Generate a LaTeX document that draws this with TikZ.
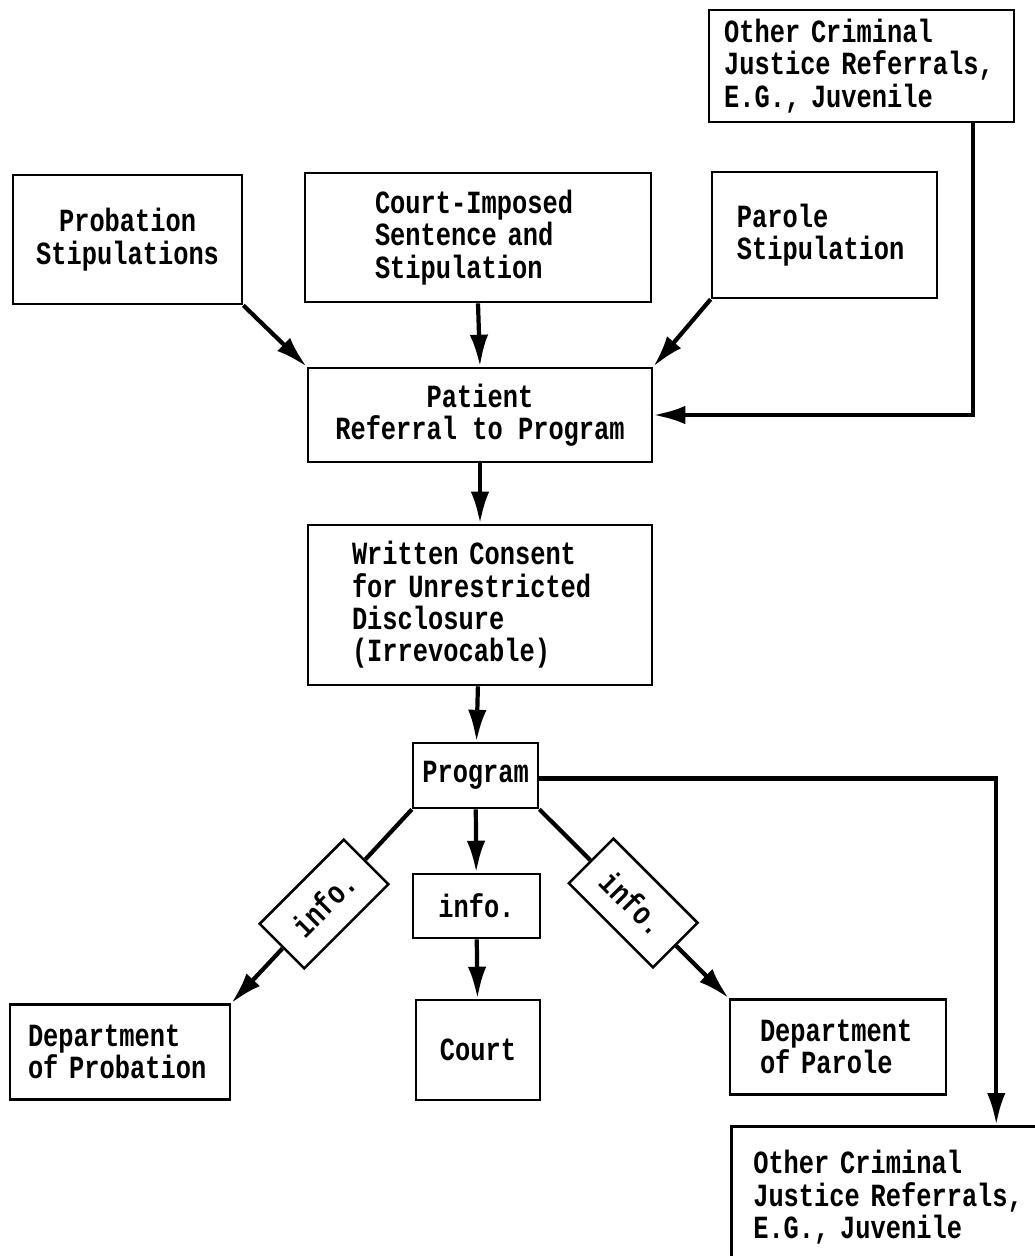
\documentclass[tikz,border=0pt]{standalone}
\usepackage{fontspec}
\newfontfamily\typewriter[FakeStretch=0.785]{Liberation Mono}
\usepackage{tikz}
\usetikzlibrary{arrows.meta, positioning}
\tikzstyle{box}=[rectangle, draw=black, line width=1.8pt, inner sep=0pt, align=center,
  font=\typewriter\bfseries\fontsize{23}{23}\selectfont]
\tikzstyle{conn}=[line width=3pt, -{Latex[length=0.8cm, width=0.46cm]}]
\tikzstyle{plain}=[line width=3pt]

\begin{document}
\begin{tikzpicture}
      \useasboundingbox (0,0) rectangle (25.85,-31.4);

      \node[box, minimum width=7.625cm, minimum height=2.8cm, text width=6.875cm, align=left] (crimtop) at (21.54,-1.65) {Other Criminal\\Justice Referrals,\\E.G., Juvenile};

	   \node[box, minimum width=5.725cm, minimum height=3.225cm] (prob) at (3.19,-5.99) {Probation\\Stipulations};
	   \node[box, minimum width=8.65cm, minimum height=3.225cm, text width=5.15cm, align=left] (court) at (11.95,-5.94) {Court-Imposed\\Sentence and\\Stipulation};
	   \node[box, minimum width=5.625cm, minimum height=3.15cm, text width=4.375cm, align=left] (parole) at (20.61,-5.875) {Parole\\Stipulation};

	   \node[box, minimum width=8.6cm, minimum height=2.35cm] (patient) at (12.0,-10.375) {Patient\\Referral to Program};
	   \node[box, minimum width=8.6cm, minimum height=4.0cm, text width=6.4cm, align=left] (consent) at (12.0,-15.125) {Written Consent\\for Unrestricted\\Disclosure\\(Irrevocable)};
	   \node[box, minimum width=3.125cm, minimum height=1.625cm] (program) at (11.89,-19.39) {Program};

	   \node[box, minimum width=3.175cm, minimum height=1.6cm] (infoc) at (11.91,-22.65) {info.};
	   \node[box, minimum width=2.975cm, minimum height=1.575cm, rotate=45] (infol) at (8.1,-22.6) {info.};
	   \node[box, minimum width=2.975cm, minimum height=1.575cm, rotate=-45] (infor) at (15.83,-22.575) {info.};

	   \node[box, minimum width=5.5cm, minimum height=2.375cm, text width=4.6cm, align=left] (deprob) at (3.0,-26.3) {Department\\of Probation};
	   \node[box, minimum width=3.1cm, minimum height=2.5cm] (courtb) at (11.95,-26.25) {Court};
	   \node[box, minimum width=5.4cm, minimum height=2.375cm, text width=3.9cm, align=left] (depar) at (20.95,-26.175) {Department\\of Parole};
	   \node[box, anchor=north west, minimum width=8.1cm, minimum height=3.55cm, text width=7.0cm, align=left] (crimbot) at (18.25,-28.125) {Other Criminal\\Justice Referrals,\\E.G., Juvenile};

      % referrals into the program
      \draw[conn] (prob.south east) -- (patient.north west);
      \draw[conn] (court.south) -- (patient.north);
      \draw[conn] (parole.south west) -- (patient.north east);
      \draw[conn] ([xshift=2.785cm]crimtop.south) |- (patient.east);
      \draw[conn] (patient) -- (consent);
      \draw[conn] (consent) -- (program);

      % information out of the program
      \draw[plain] (program.south west) -- (infol);
      \draw[conn] (infol) -- (deprob.north east);
      \draw[conn] (program) -- (infoc);
      \draw[conn] (infoc) -- (courtb);
      \draw[plain] (program.south east) -- (infor);
      \draw[conn] (infor) -- (depar.north west);
      \draw[conn] ([yshift=-0.07cm]program.east) -| ([xshift=2.575cm]crimbot.north);
  \end{tikzpicture}
\end{document}
